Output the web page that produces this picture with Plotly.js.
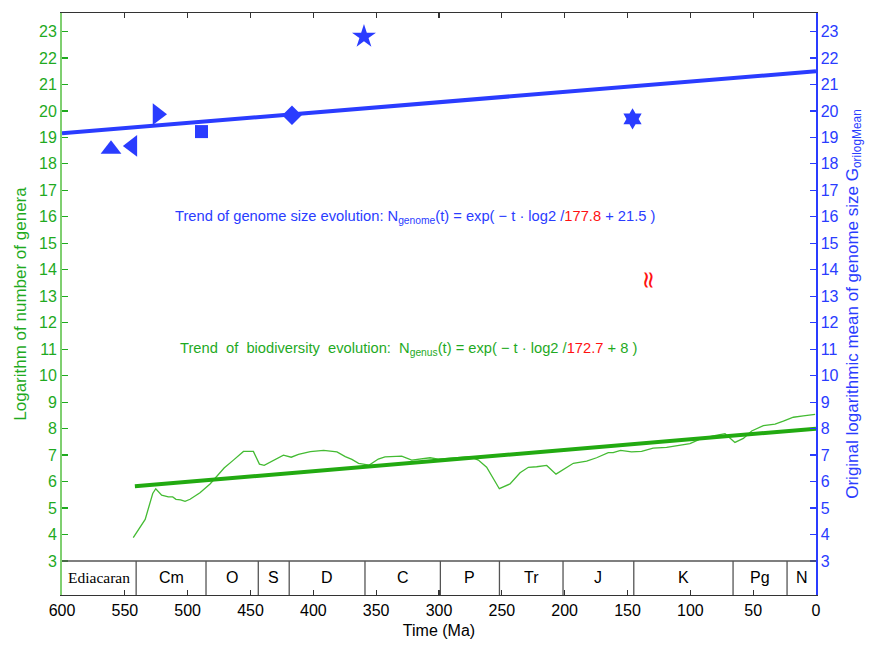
<!DOCTYPE html>
<html>
<head>
<meta charset="utf-8">
<script src="https://cdn.plot.ly/plotly-3.0.1.min.js"></script>
<style>html,body{margin:0;padding:0;background:#fff;}#chart{width:872px;height:655px;}</style>
</head>
<body>
<div id="chart"></div>
<script>
// Biodiversity curve (log of number of genera), time in Ma
const divTime = [543.3,533.8,527.8,525.4,520.7,515.4,511.9,509.3,505.6,502.1,498.1,490.2,482.2,476.9,471,463.6,455.6,447.7,442.9,439.1,431.7,423.8,417.6,411.8,402.4,391.8,381.2,374.6,369.3,364,355.5,348.3,343,329.7,321.7,312.5,307.1,300.6,291.3,275.3,268.7,262.1,252.0,243.5,235.5,228.9,222.3,214.3,206.9,201.1,193.1,182.5,174.6,165.3,161.4,155.5,146.8,138.8,129.6,118.9,108.2,100.3,92.3,81.8,72.4,69.0,64.5,57.8,51.2,41.9,32.6,26,18,10.1,0.7];
const divLog  = [3.88,4.57,5.55,5.73,5.49,5.42,5.42,5.33,5.31,5.25,5.33,5.58,5.91,6.21,6.51,6.81,7.14,7.14,6.66,6.61,6.81,7.0,6.92,7.03,7.13,7.18,7.12,6.94,6.84,6.69,6.62,6.85,6.93,6.96,6.81,6.88,6.90,6.85,6.88,6.94,6.81,6.54,5.73,5.91,6.33,6.54,6.56,6.61,6.28,6.46,6.69,6.77,6.90,7.09,7.09,7.18,7.12,7.14,7.26,7.29,7.37,7.43,7.60,7.73,7.81,7.66,7.48,7.63,7.91,8.11,8.17,8.28,8.43,8.48,8.54];

// Biodiversity trend line end points
const genusTrendTime = [542, 0];
const genusTrendLog  = [5.82, 8.0];

// Genome size points (original log mean genome size)
const genomeTime = [561, 544, 524, 489, 417, 359.7, 146];
const genomeLog  = [18.55, 18.68, 19.88, 19.22, 19.84, 22.81, 19.7];
const genomeSymbols = ['triangle-up','triangle-left','triangle-right','square','diamond','star','hexagram'];

// Genome trend line end points
const genomeTrendTime = [600, 0];
const genomeTrendLog  = [19.16, 21.5];

// Geological timescale
const periodNames = ['Ediacaran','Cm','O','S','D','C','P','Tr','J','K','Pg','N'];
const periodStart = [600, 541, 485.4, 443.8, 419.2, 358.9, 298.9, 251.9, 201.3, 145, 66, 23.03];
const periodEnd   = [541, 485.4, 443.8, 419.2, 358.9, 298.9, 251.9, 201.3, 145, 66, 23.03, 0];

const yTicks = [3,4,5,6,7,8,9,10,11,12,13,14,15,16,17,18,19,20,21,22,23];

const GREEN = '#22aa11';
const GREEN_TXT = '#1faa1f';
const BLUE = '#2a3cff';
const FONT = 'Liberation Sans, Arial, sans-serif';
const YR = [1.715, 23.7];

const traces = [
  {x: divTime, y: divLog, type:'scatter', mode:'lines', line:{color:'#44bb33', width:1.3}, yaxis:'y', hoverinfo:'skip'},
  {x: genusTrendTime, y: genusTrendLog, type:'scatter', mode:'lines', line:{color:GREEN, width:4}, yaxis:'y', hoverinfo:'skip'},
  {x: genomeTrendTime, y: genomeTrendLog, type:'scatter', mode:'lines', line:{color:BLUE, width:4}, yaxis:'y2', hoverinfo:'skip'},
  {x: genomeTime, y: genomeLog, type:'scatter', mode:'markers', yaxis:'y2',
   marker:{symbol: genomeSymbols, color:BLUE, opacity:1, size:[18,19,19,13,15,18,16], line:{width:0}}, hoverinfo:'skip'}
];

const shapes = [];
shapes.push({type:'line', xref:'x', yref:'y', x0:600, x1:0, y0:3, y1:3, line:{color:'#555', width:1.3}, layer:'above'});
for (let i = 1; i < periodStart.length; i++) {
  shapes.push({type:'line', xref:'x', yref:'y', x0:periodStart[i], x1:periodStart[i], y0:YR[0], y1:3, line:{color:'#555', width:1.3}, layer:'above'});
}

const annotations = [];
for (let i = 0; i < periodNames.length; i++) {
  const serif = periodNames[i] === 'Ediacaran';
  annotations.push({x:(periodStart[i]+periodEnd[i])/2, y:2.36, xref:'x', yref:'y', text:periodNames[i], showarrow:false,
    font:{family: serif ? 'Liberation Serif, Times New Roman, serif' : FONT, size: serif ? 15.5 : 16, color:'#000'}, xanchor:'center', yanchor:'middle'});
}
annotations.push({x:511.7, y:16.0, xref:'x', yref:'y', xanchor:'left', yanchor:'middle', showarrow:false,
  text:'Trend of genome size evolution: N<sub>genome</sub>(t) = exp( \u2212 t \u00b7 log2 /<span style="color:#ff1111">177.8</span> + 21.5 )',
  font:{family:FONT, size:14.7, color:BLUE}});
annotations.push({x:507.7, y:11.0, xref:'x', yref:'y', xanchor:'left', yanchor:'middle', showarrow:false,
  text:'Trend\u00a0 of\u00a0 biodiversity\u00a0 evolution:\u00a0 N<sub>genus</sub>(t) = exp( \u2212 t \u00b7 log2 /<span style="color:#ff1111">172.7</span> + 8 )',
  font:{family:FONT, size:14.7, color:GREEN_TXT}});
annotations.push({x:133.3, y:13.6, xref:'x', yref:'y', xanchor:'center', yanchor:'middle', showarrow:false,
  text:'\u2248', textangle:90, font:{family:'DejaVu Sans', size:24, color:'#ff1111'}});

const layout = {
  width:872, height:655,
  margin:{l:62, r:56, t:13, b:60, pad:0},
  paper_bgcolor:'#fff', plot_bgcolor:'#fff',
  showlegend:false,
  font:{family:FONT, size:16, color:'#000'},
  xaxis:{range:[600,0], autorange:false, tickmode:'array', tickvals:[600,550,500,450,400,350,300,250,200,150,100,50,0],
    ticks:'inside', ticklen:5, tickwidth:1.2, tickcolor:'#333', showline:true, linecolor:'#333', linewidth:1.3, mirror:'ticks',
    showgrid:false, zeroline:false, tickfont:{size:16, color:'#000'},
    title:{text:'Time (Ma)', font:{size:16, color:'#000'}, standoff:7}},
  yaxis:{range:YR, autorange:false, tickmode:'array', tickvals:yTicks, ticks:'inside', ticklen:6, tickwidth:1.2, tickcolor:GREEN_TXT,
    showline:true, linecolor:'#7fcf70', linewidth:2, showgrid:false, zeroline:false, tickfont:{size:16, color:GREEN_TXT},
    title:{text:'Logarithm of number of genera', font:{size:17, color:GREEN_TXT}, standoff:8}},
  yaxis2:{range:YR, autorange:false, overlaying:'y', side:'right', tickmode:'array', tickvals:yTicks, ticks:'inside', ticklen:6, tickwidth:1.2,
    tickcolor:BLUE, showline:true, linecolor:BLUE, linewidth:1.5, showgrid:false, zeroline:false, tickfont:{size:16, color:BLUE},
    title:{text:'Original logarithmic mean of genome size G<sub>orilogMean</sub>', font:{size:17, color:BLUE}, standoff:8}},
  shapes: shapes,
  annotations: annotations
};

Plotly.newPlot('chart', traces, layout, {displayModeBar:false, staticPlot:true});
</script>
</body>
</html>
